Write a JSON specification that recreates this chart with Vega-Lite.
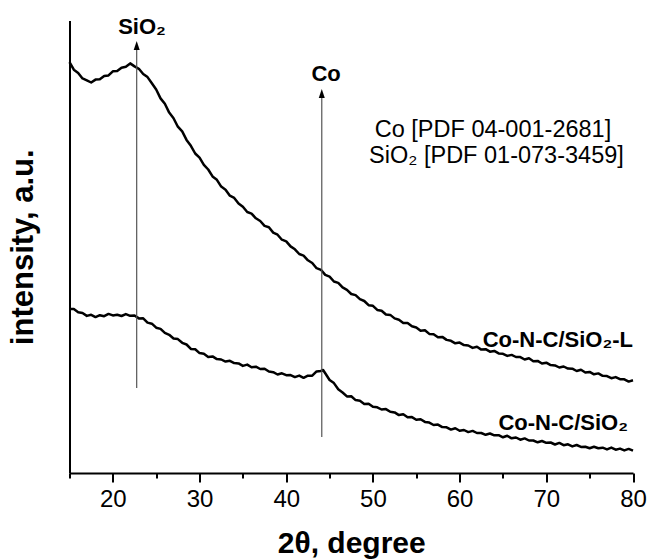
{
  "$schema": "https://vega.github.io/schema/vega-lite/v6.json",
  "autosize": "none",
  "width": 563.5,
  "height": 452.5,
  "padding": {"left": 69.5, "top": 20.5, "right": 15, "bottom": 86},
  "background": "white",
  "config": {"view": {"stroke": null}, "font": "Liberation Sans"},
  "datasets": {
    "upper": [
      {"x":15,"y":410.8},{"x":15.5,"y":403.3},{"x":16,"y":400.1},{"x":16.5,"y":394.6},{"x":17,"y":392.7},{"x":17.5,"y":390.5},{"x":18,"y":393.4},{"x":18.5,"y":393.7},{"x":19,"y":397},{"x":19.5,"y":397.6},
      {"x":20,"y":401.7},{"x":20.5,"y":401.9},{"x":21,"y":405.3},{"x":21.5,"y":406.3},{"x":22,"y":409.6},{"x":22.5,"y":406.6},{"x":23,"y":404.2},{"x":23.5,"y":399},{"x":24,"y":395.9},{"x":24.5,"y":389.7},
      {"x":25,"y":383.5},{"x":25.5,"y":374.6},{"x":26,"y":369.2},{"x":26.5,"y":360.4},{"x":27,"y":354.8},{"x":27.5,"y":346.3},{"x":28,"y":341.6},{"x":28.5,"y":333.1},{"x":29,"y":327.2},{"x":29.5,"y":319.5},
      {"x":30,"y":315.4},{"x":30.5,"y":308.2},{"x":31,"y":303.5},{"x":31.5,"y":296.6},{"x":32,"y":293.2},{"x":32.5,"y":286.4},{"x":33,"y":283.3},{"x":33.5,"y":277.3},{"x":34,"y":275.1},{"x":34.5,"y":269.6},
      {"x":35,"y":266.2},{"x":35.5,"y":261},{"x":36,"y":259.4},{"x":36.5,"y":254.7},{"x":37,"y":252},{"x":37.5,"y":247.1},{"x":38,"y":245.7},{"x":38.5,"y":240.4},{"x":39,"y":238.3},{"x":39.5,"y":233.3},
      {"x":40,"y":231.6},{"x":40.5,"y":226.6},{"x":41,"y":223.7},{"x":41.5,"y":219},{"x":42,"y":217.4},{"x":42.5,"y":212.7},{"x":43,"y":210},{"x":43.5,"y":204.8},{"x":44,"y":203.2},{"x":44.5,"y":198.1},
      {"x":45,"y":196.3},{"x":45.5,"y":191.5},{"x":46,"y":190.1},{"x":46.5,"y":185.6},{"x":47,"y":183.2},{"x":47.5,"y":179},{"x":48,"y":177.9},{"x":48.5,"y":173.9},{"x":49,"y":172},{"x":49.5,"y":167.8},
      {"x":50,"y":167.2},{"x":50.5,"y":163.1},{"x":51,"y":162.3},{"x":51.5,"y":158.5},{"x":52,"y":158.1},{"x":52.5,"y":154.6},{"x":53,"y":153.2},{"x":53.5,"y":150},{"x":54,"y":149.9},{"x":54.5,"y":146.7},
      {"x":55,"y":145.5},{"x":55.5,"y":142.3},{"x":56,"y":142.7},{"x":56.5,"y":139.1},{"x":57,"y":138.8},{"x":57.5,"y":135.8},{"x":58,"y":136.1},{"x":58.5,"y":133.1},{"x":59,"y":132.2},{"x":59.5,"y":129.7},
      {"x":60,"y":130.4},{"x":60.5,"y":127.9},{"x":61,"y":127.5},{"x":61.5,"y":125.1},{"x":62,"y":126.2},{"x":62.5,"y":123.4},{"x":63,"y":123.8},{"x":63.5,"y":121.3},{"x":64,"y":122.1},{"x":64.5,"y":119.6},
      {"x":65,"y":119.2},{"x":65.5,"y":117.1},{"x":66,"y":118.1},{"x":66.5,"y":116},{"x":67,"y":115.9},{"x":67.5,"y":113.5},{"x":68,"y":114.7},{"x":68.5,"y":111.8},{"x":69,"y":112.1},{"x":69.5,"y":109.5},
      {"x":70,"y":110.3},{"x":70.5,"y":107.9},{"x":71,"y":107.6},{"x":71.5,"y":105.5},{"x":72,"y":106.5},{"x":72.5,"y":104.4},{"x":73,"y":104.3},{"x":73.5,"y":102},{"x":74,"y":103.2},{"x":74.5,"y":100.5},
      {"x":75,"y":101.1},{"x":75.5,"y":98.7},{"x":76,"y":99.6},{"x":76.5,"y":97.2},{"x":77,"y":96.9},{"x":77.5,"y":94.8},{"x":78,"y":95.9},{"x":78.5,"y":93.8},{"x":79,"y":93.7},{"x":79.5,"y":91.4},{"x":80,"y":92.7}
    ],
    "lower": [
      {"x":15,"y":164},{"x":15.5,"y":163.9},{"x":16,"y":160.7},{"x":16.5,"y":160},{"x":17,"y":157.1},{"x":17.5,"y":158.2},{"x":18,"y":155.9},{"x":18.5,"y":157.8},{"x":19,"y":156.8},{"x":19.5,"y":159.1},
      {"x":20,"y":157.6},{"x":20.5,"y":158.2},{"x":21,"y":157},{"x":21.5,"y":158.9},{"x":22,"y":157.2},{"x":22.5,"y":157.5},{"x":23,"y":154.6},{"x":23.5,"y":154.7},{"x":24,"y":150.4},{"x":24.5,"y":149.3},
      {"x":25,"y":145.3},{"x":25.5,"y":144.1},{"x":26,"y":140.1},{"x":26.5,"y":138.2},{"x":27,"y":134.5},{"x":27.5,"y":133.9},{"x":28,"y":130.2},{"x":28.5,"y":128.5},{"x":29,"y":124.1},{"x":29.5,"y":123.7},
      {"x":30,"y":119.9},{"x":30.5,"y":119.3},{"x":31,"y":116.1},{"x":31.5,"y":116.6},{"x":32,"y":113.9},{"x":32.5,"y":113.5},{"x":33,"y":111.4},{"x":33.5,"y":112.2},{"x":34,"y":109.9},{"x":34.5,"y":109.6},
      {"x":35,"y":107.1},{"x":35.5,"y":108.4},{"x":36,"y":105.7},{"x":36.5,"y":106.3},{"x":37,"y":104},{"x":37.5,"y":104.3},{"x":38,"y":101.5},{"x":38.5,"y":100.8},{"x":39,"y":98.5},{"x":39.5,"y":99.7},
      {"x":40,"y":97.8},{"x":40.5,"y":97.9},{"x":41,"y":95.9},{"x":41.5,"y":97.4},{"x":42,"y":95.2},{"x":42.5,"y":97.3},{"x":43,"y":97.3},{"x":43.5,"y":101.6},{"x":44,"y":102.1},{"x":44.25,"y":103},{"x":44.5,"y":99.7},
      {"x":45,"y":93},{"x":45.5,"y":89.9},{"x":46,"y":83.7},{"x":46.5,"y":80.5},{"x":47,"y":76.6},{"x":47.5,"y":76.7},{"x":48,"y":72.9},{"x":48.5,"y":72.3},{"x":49,"y":69.1},{"x":49.5,"y":69.3},
      {"x":50,"y":66.2},{"x":50.5,"y":65.7},{"x":51,"y":63.5},{"x":51.5,"y":63.9},{"x":52,"y":61.2},{"x":52.5,"y":60.6},{"x":53,"y":57.9},{"x":53.5,"y":58.7},{"x":54,"y":55.7},{"x":54.5,"y":55.9},
      {"x":55,"y":53.3},{"x":55.5,"y":53.8},{"x":56,"y":51.1},{"x":56.5,"y":50.4},{"x":57,"y":48},{"x":57.5,"y":48.4},{"x":58,"y":45.9},{"x":58.5,"y":45.7},{"x":59,"y":43.4},{"x":59.5,"y":44.8},
      {"x":60,"y":42.2},{"x":60.5,"y":43},{"x":61,"y":40.9},{"x":61.5,"y":42.1},{"x":62,"y":40},{"x":62.5,"y":40},{"x":63,"y":38.2},{"x":63.5,"y":39.5},{"x":64,"y":37.7},{"x":64.5,"y":37.8},
      {"x":65,"y":35.7},{"x":65.5,"y":37.2},{"x":66,"y":34.7},{"x":66.5,"y":35.5},{"x":67,"y":33.3},{"x":67.5,"y":34.6},{"x":68,"y":32.5},{"x":68.5,"y":32.5},{"x":69,"y":30.7},{"x":69.5,"y":32},
      {"x":70,"y":30.2},{"x":70.5,"y":30.5},{"x":71,"y":28.5},{"x":71.5,"y":30.1},{"x":72,"y":27.8},{"x":72.5,"y":28.7},{"x":73,"y":26.6},{"x":73.5,"y":28},{"x":74,"y":26.1},{"x":74.5,"y":26.3},
      {"x":75,"y":24.8},{"x":75.5,"y":26.3},{"x":76,"y":24.8},{"x":76.5,"y":25.3},{"x":77,"y":23.6},{"x":77.5,"y":25.4},{"x":78,"y":23.3},{"x":78.5,"y":24.4},{"x":79,"y":22.6},{"x":79.5,"y":24.1},{"x":80,"y":22.3}
    ],
    "arrows": [
      {"x": 22.75, "y1": 85, "y2": 425, "head": 427},
      {"x": 44.1, "y1": 36, "y2": 377, "head": 379}
    ],
    "peakLabels": [
      {"x": 23.36, "y": 439, "label": "SiO₂"},
      {"x": 44.6, "y": 392, "label": "Co"}
    ],
    "sampleLabels": [
      {"x": 80, "y": 126, "label": "Co-N-C/SiO₂-L"},
      {"x": 79.42, "y": 43, "label": "Co-N-C/SiO₂"}
    ],
    "refLabels": [
      {"x": 63.85, "y": 336, "label": "Co [PDF 04-001-2681]"},
      {"x": 64.25, "y": 309.7, "label": "SiO₂ [PDF 01-073-3459]"}
    ]
  },
  "layer": [
    {
      "data": {"name": "upper"},
      "mark": {"type": "line", "color": "black", "strokeWidth": 2.5, "strokeJoin": "round"},
      "encoding": {
        "x": {
          "field": "x", "type": "quantitative",
          "scale": {"domain": [15, 80], "nice": false, "zero": false},
          "axis": {
            "values": [15, 20, 25, 30, 35, 40, 45, 50, 55, 60, 65, 70, 75, 80],
            "labelExpr": "datum.value % 10 === 0 ? datum.label : ''",
            "tickSize": {"condition": {"test": "datum.value % 10 === 0", "value": 9}, "value": 5},
            "tickWidth": 2, "tickColor": "black",
            "domainWidth": 2, "domainColor": "black",
            "grid": false,
            "labelFont": "Liberation Sans", "labelFontSize": 24, "labelColor": "black",
            "labelPadding": 5, "labelFlush": false, "labelOverlap": false,
            "title": "2θ, degree",
            "titleFont": "Liberation Sans", "titleFontSize": 30, "titleFontWeight": "bold", "titleColor": "black",
            "titlePadding": 17
          }
        },
        "y": {
          "field": "y", "type": "quantitative",
          "scale": {"domain": [0, 452.5], "nice": false, "zero": false},
          "axis": {
            "ticks": false, "labels": false, "grid": false,
            "domainWidth": 2, "domainColor": "black",
            "title": "intensity, a.u.",
            "titleFont": "Liberation Sans", "titleFontSize": 31, "titleFontWeight": "bold", "titleColor": "black",
            "titlePadding": 30
          }
        }
      }
    },
    {
      "data": {"name": "lower"},
      "mark": {"type": "line", "color": "black", "strokeWidth": 2.5, "strokeJoin": "round"},
      "encoding": {
        "x": {"field": "x", "type": "quantitative"},
        "y": {"field": "y", "type": "quantitative"}
      }
    },
    {
      "data": {"name": "arrows"},
      "mark": {"type": "rule", "color": "#555555", "strokeWidth": 1.2},
      "encoding": {
        "x": {"field": "x", "type": "quantitative"},
        "y": {"field": "y1", "type": "quantitative"},
        "y2": {"field": "y2"}
      }
    },
    {
      "data": {"name": "arrows"},
      "mark": {"type": "point", "shape": "M0,-1L0.6,0.8L-0.6,0.8Z", "size": 100, "filled": true, "color": "black", "opacity": 1},
      "encoding": {
        "x": {"field": "x", "type": "quantitative"},
        "y": {"field": "head", "type": "quantitative"}
      }
    },
    {
      "data": {"name": "peakLabels"},
      "mark": {"type": "text", "font": "Liberation Sans", "fontSize": 22, "fontWeight": "bold", "color": "black", "baseline": "alphabetic", "align": "center"},
      "encoding": {
        "x": {"field": "x", "type": "quantitative"},
        "y": {"field": "y", "type": "quantitative"},
        "text": {"field": "label"}
      }
    },
    {
      "data": {"name": "sampleLabels"},
      "mark": {"type": "text", "font": "Liberation Sans", "fontSize": 22, "fontWeight": "bold", "color": "black", "baseline": "alphabetic", "align": "right"},
      "encoding": {
        "x": {"field": "x", "type": "quantitative"},
        "y": {"field": "y", "type": "quantitative"},
        "text": {"field": "label"}
      }
    },
    {
      "data": {"name": "refLabels"},
      "mark": {"type": "text", "font": "Liberation Sans", "fontSize": 23.5, "color": "black", "baseline": "alphabetic", "align": "center"},
      "encoding": {
        "x": {"field": "x", "type": "quantitative"},
        "y": {"field": "y", "type": "quantitative"},
        "text": {"field": "label"}
      }
    }
  ]
}
